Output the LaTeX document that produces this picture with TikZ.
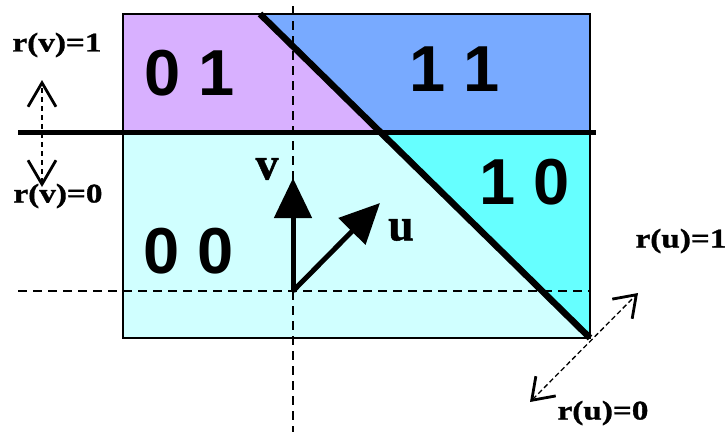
\documentclass[tikz,border=0pt]{standalone}
\usepackage{fontspec}
\setmainfont{Liberation Serif}
\newfontfamily\rlblfont[FakeStretch=1.23,FakeBold=1.2]{Liberation Serif}
\newfontfamily\veclblfont[FakeBold=1]{Liberation Serif}
\newfontfamily\digitfont{Liberation Sans}
\usetikzlibrary{arrows.meta}
\definecolor{cpurple}{RGB}{216,176,255}
\definecolor{cblue}{RGB}{120,170,255}
\definecolor{ccyan}{RGB}{102,255,255}
\definecolor{clight}{RGB}{208,255,255}
\begin{document}
\begin{tikzpicture}[x=1pt,y=-1pt,
  region/.style={inner sep=0pt,font=\digitfont\bfseries\fontsize{65}{65}\selectfont},
  rlabel/.style={inner sep=0pt,font=\rlblfont\bfseries\fontsize{27}{27}\selectfont},
  veclabel/.style={inner sep=0pt,font=\veclblfont\bfseries\fontsize{46}{46}\selectfont},
  axisdash/.style={line width=2.5pt,dash pattern=on 9pt off 6pt},
  thinarrow/.style={line width=1.6pt,dash pattern=on 5pt off 4pt,
     {Straight Barb[length=24pt,width=28pt,line width=2.8pt]}-{Straight Barb[length=24pt,width=28pt,line width=2.8pt]}},
  thinarrowd/.style={line width=1.3pt,dash pattern=on 5pt off 3pt,
     {Straight Barb[length=20pt,width=28pt,line width=2.8pt]}-{Straight Barb[length=20pt,width=28pt,line width=2.8pt]}},
  vec/.style={line width=5pt,-{Triangle[length=40pt,width=37pt]}}
]
\useasboundingbox (0,0) rectangle (727,432);
% regions
\fill[cpurple] (123,14) -- (260,14) -- (380,132) -- (123,132) -- cycle;
\fill[cblue] (260,14) -- (590,14) -- (590,132) -- (380,132) -- cycle;
\fill[ccyan] (380,132) -- (590,132) -- (590,338) -- cycle;
\fill[clight] (123,132) -- (380,132) -- (590,338) -- (123,338) -- cycle;
\draw[line width=2pt] (123,14) rectangle (590,338);
% coordinates
\coordinate (dtop) at (260,14);
\coordinate (dbot) at (590,338);
\coordinate (hl) at (18,132);
\coordinate (hr) at (596,132);
\coordinate (vdt) at (293,6);
\coordinate (vdb) at (293,432);
\coordinate (hdl) at (18,291);
\coordinate (hdr) at (590,291);
\coordinate (o) at (293,291);
\coordinate (vt) at (293,178);
\coordinate (ut) at (380,203);
\coordinate (rvu) at (42,80);
\coordinate (rvd) at (42,187);
\coordinate (ruu) at (638,293);
\coordinate (rud) at (530,402);
% dashed axes
\draw[axisdash] (vdt) -- (vdb);
\draw[axisdash] (hdl) -- (hdr);
% thick lines
\draw[line width=5pt] (hl) -- (hr);
\draw[line width=6.5pt] (dtop) -- (dbot);
% vectors
\draw[vec] (o) -- (vt);
\draw[vec] (o) -- (ut);
% dashed double arrows
\draw[thinarrow] (rvd) -- (rvu);
\draw[thinarrowd] (rud) -- (ruu);
% labels
\node[region] (n01) at (190,73) {0 1};
\node[region] (n11) at (455,69) {1 1};
\node[region] (n10) at (525,182) {1 0};
\node[region] (n00) at (189,251) {0 0};
\node[veclabel] (lv) at (267,169) {v};
\node[veclabel] (lu) at (401,230) {u};
\node[rlabel] (rv1) at (57,45) {r(v)=1};
\node[rlabel] (rv0) at (58,196) {r(v)=0};
\node[rlabel] (ru1) at (681,241) {r(u)=1};
\node[rlabel] (ru0) at (603,413) {r(u)=0};
\end{tikzpicture}
\end{document}
